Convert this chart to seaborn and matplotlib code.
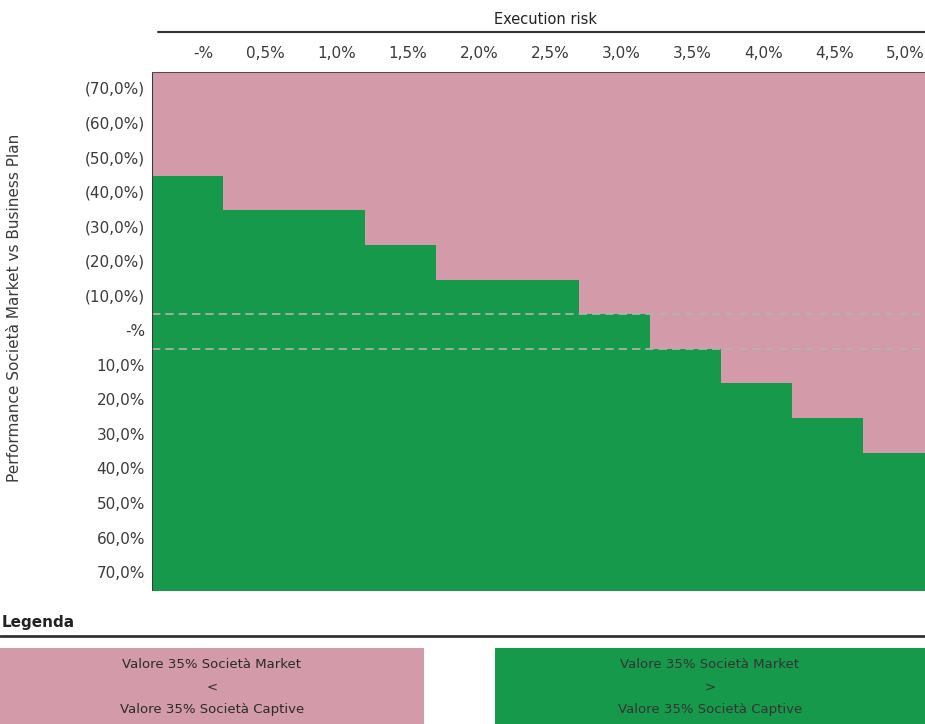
import numpy as np
import pandas as pd
import matplotlib
matplotlib.use("Agg")
import matplotlib.pyplot as plt
from matplotlib.colors import ListedColormap
from matplotlib.patches import Rectangle
import seaborn as sns

# Execution risk scenarios (columns) and Market performance vs business plan (rows)
execution_risk = ["-%", "0,5%", "1,0%", "1,5%", "2,0%", "2,5%", "3,0%", "3,5%", "4,0%", "4,5%", "5,0%"]
performance = ["(70,0%)", "(60,0%)", "(50,0%)", "(40,0%)", "(30,0%)", "(20,0%)", "(10,0%)",
               "-%", "10,0%", "20,0%", "30,0%", "40,0%", "50,0%", "60,0%", "70,0%"]
# For each execution-risk column: first performance row where Market > Captive
first_market_above = [3, 4, 4, 5, 6, 6, 7, 8, 9, 10, 11]

PINK = "#d39aaa"
GREEN = "#17994b"

sns.set_theme(style="white")
plt.rcParams["font.family"] = ["DejaVu Sans"]

# 1 = Market above Captive, 0 = Market below Captive
grid = np.zeros((len(performance), len(execution_risk)), dtype=int)
for j, r in enumerate(first_market_above):
    grid[r:, j] = 1
df = pd.DataFrame(grid, index=performance, columns=execution_risk)

fig = plt.figure(figsize=(9.25, 7.24), dpi=100)
W, H = 925, 724

def fx(px):
    return px / W

def fy(py):
    return 1 - py / H

ax = fig.add_axes([fx(152), fy(591), fx(925) - fx(152) + 0.01, fy(72) - fy(591)])
sns.heatmap(df, ax=ax, cmap=ListedColormap([PINK, GREEN]), vmin=0, vmax=1,
            cbar=False, linewidths=0, square=False)

ax.xaxis.tick_top()
ax.set_xticks(np.arange(len(execution_risk)) + 0.87)
ax.set_xticklabels(execution_risk, ha="right", fontsize=11, color="#3a3a3a")
ax.set_yticks(np.arange(len(performance)) + 0.5)
ax.set_yticklabels(performance, rotation=0, fontsize=11, color="#3a3a3a")
ax.tick_params(axis="both", length=0, pad=5)
ax.tick_params(axis="x", pad=8)
ax.set_xlabel("")
ax.set_ylabel("")

# Dashed guides framing the business-plan row
zero_row = performance.index("-%")
for yv in (zero_row, zero_row + 1):
    ax.axhline(yv, color="#b4b4b4", lw=1.2, ls=(0, (5, 3)))

# Dark frame on left and top edges
ax.axvline(0, color="#3a3a3a", lw=1.5)
ax.axhline(0, color="#5a4a50", lw=1.5)
for s in ax.spines.values():
    s.set_visible(False)

# Column header
fig.text(fx(545), fy(20), "Execution risk", ha="center", va="center", fontsize=10.5, color="#222222")
fig.add_artist(plt.Line2D([fx(158), 1.0], [fy(32), fy(32)], color="#333333", lw=1.5))

# Row header
fig.text(fx(15), fy(308), "Performance Società Market vs Business Plan", rotation=90,
         ha="center", va="center", fontsize=11, color="#3a3a3a")

# Legend
fig.text(fx(2), fy(622), "Legenda", ha="left", va="center", fontsize=11,
         fontweight="bold", color="#222222")
fig.add_artist(plt.Line2D([0, 1.0], [fy(636), fy(636)], color="#333333", lw=2))

boxes = [
    (0, 424, PINK, "<", "#2a2a2a"),
    (495, 925, GREEN, ">", "#333333"),
]
for x0, x1, col, sym, tc in boxes:
    fig.add_artist(Rectangle((fx(x0), 0), fx(x1) - fx(x0), fy(648), transform=fig.transFigure,
                             facecolor=col, edgecolor="none"))
    cx = fx((x0 + x1) / 2)
    fig.text(cx, fy(664), "Valore 35% Società Market", ha="center", va="center", fontsize=9.5, color=tc)
    fig.text(cx, fy(687), sym, ha="center", va="center", fontsize=9.5, color=tc)
    fig.text(cx, fy(710), "Valore 35% Società Captive", ha="center", va="center", fontsize=9.5, color=tc)

fig.savefig("out.png", dpi=100)
